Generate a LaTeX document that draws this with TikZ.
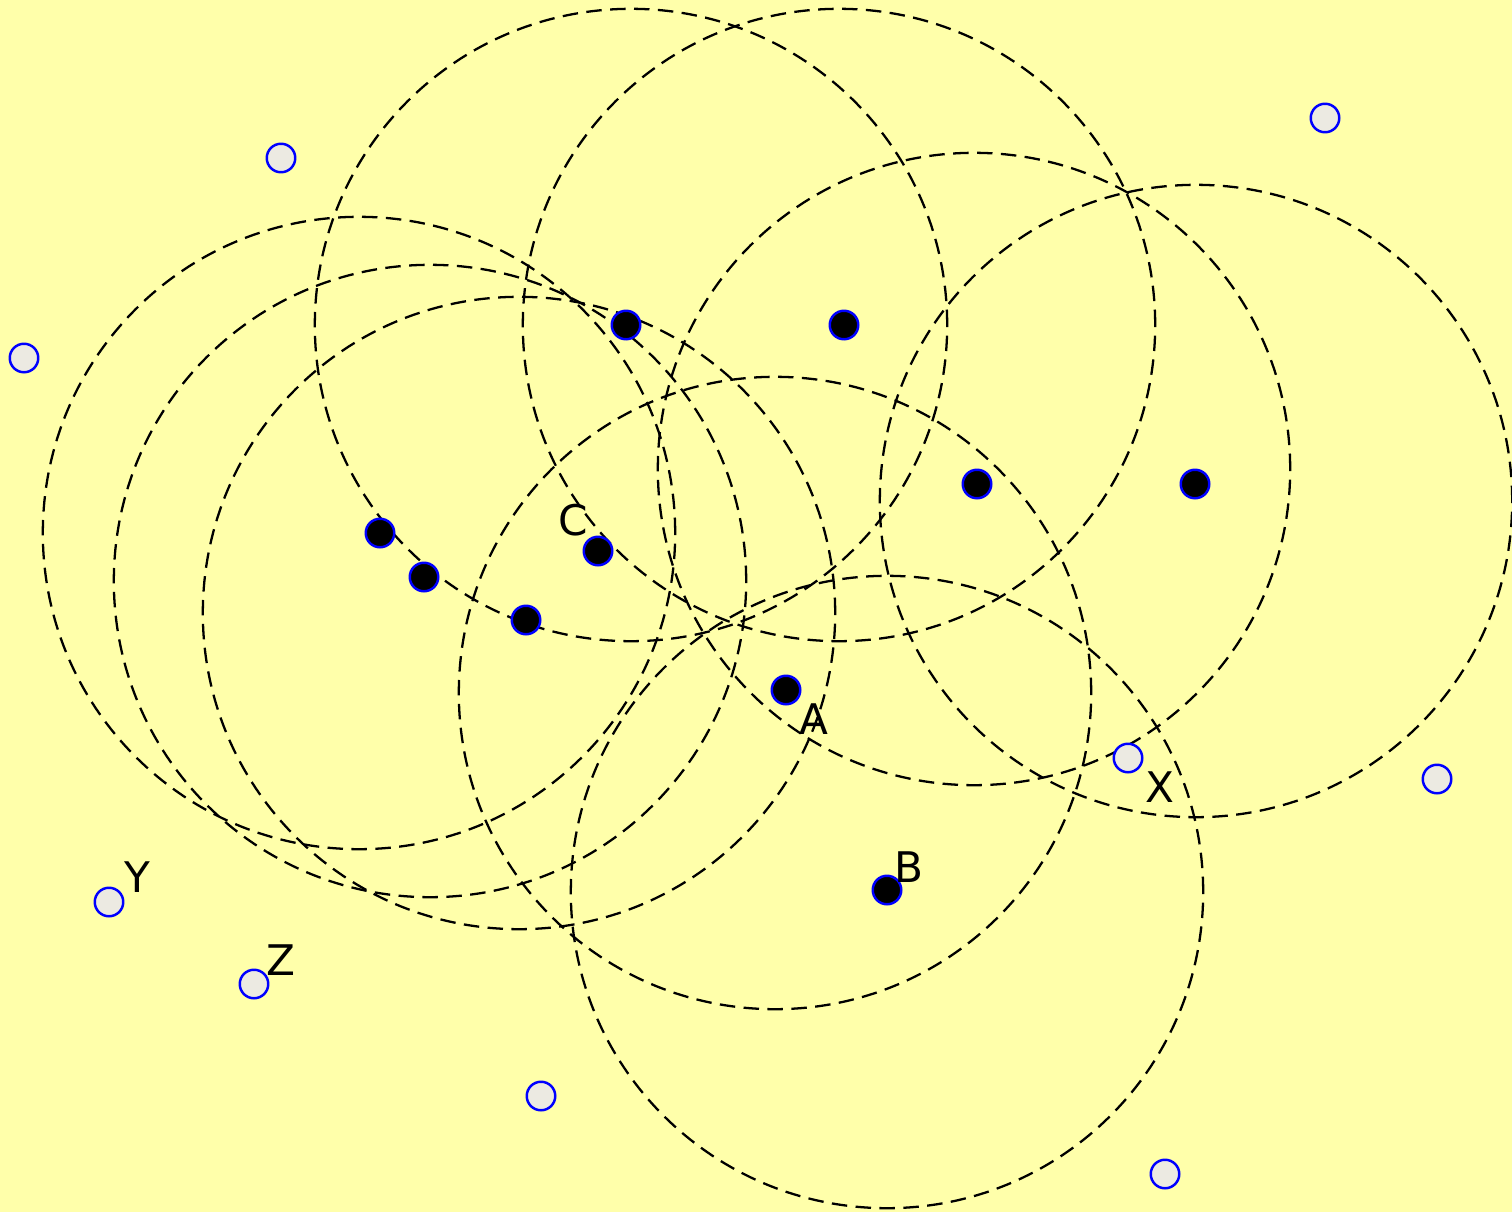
\documentclass[tikz,border=0pt]{standalone}
\usepackage{fontspec}
\setmainfont{DejaVu Sans}
\usepackage{xcolor}
\usetikzlibrary{positioning}

\definecolor{paper}{HTML}{FFFFAA}
\definecolor{pale}{HTML}{ECEAE2}

\begin{document}
\begin{tikzpicture}[x=0.01cm, y=-0.01cm,
    core/.style={circle, draw=blue, fill=black, line width=0.7pt,
        minimum size=0.285cm, inner sep=0pt},
    noise/.style={circle, draw=blue, fill=pale, line width=0.7pt,
        minimum size=0.285cm, inner sep=0pt},
    epsring/.style={draw=black, line width=0.65pt,
        dash pattern=on 4.4pt off 2.4pt},
    lbl/.style={font=\fontsize{12}{14}\selectfont, inner sep=1pt},
]
% background and frame
\fill[paper] (0,0) rectangle (1512,1212);
\useasboundingbox (0,0) rectangle (1512,1212);

% eps neighbourhoods
\foreach \cx/\cy in {631/325, 839/325, 974/469, 1196/501, 359/533,
    430/581, 519/613, 775/693, 887/892}
    \draw[epsring] (\cx,\cy) circle[radius=3.16cm];

% clustered points
\node[core] (p1) at (626,325) {};
\node[core] (p2) at (844,325) {};
\node[core] (p3) at (977,484) {};
\node[core] (p4) at (1195,484) {};
\node[core] (p5) at (380,533) {};
\node[core] (p6) at (424,577) {};
\node[core] (p7) at (526,620) {};
\node[core, label={[lbl, label distance=0pt, xshift=1.5pt]above left:C}] (c) at (598,551) {};
\node[core, label={[lbl, label distance=-0.5pt]below right:A}] (a) at (786,690) {};
\node[core, label={[lbl, label distance=-3pt]above right:B}] (b) at (887,890) {};

% noise points
\node[noise] (n1) at (281,158) {};
\node[noise] (n2) at (24,358) {};
\node[noise] (n3) at (1325,118) {};
\node[noise] (n4) at (1437,779) {};
\node[noise, label={[lbl, label distance=1pt, yshift=1pt]below right:X}] (x) at (1128,758) {};
\node[noise, label={[lbl, label distance=0pt, yshift=-1.5pt]above right:Y}] (y) at (109,902) {};
\node[noise, label={[lbl, label distance=-1pt, yshift=-1.2pt]above right:Z}] (z) at (254,984) {};
\node[noise] (n5) at (541,1096) {};
\node[noise] (n6) at (1165,1174) {};

\end{tikzpicture}
\end{document}
